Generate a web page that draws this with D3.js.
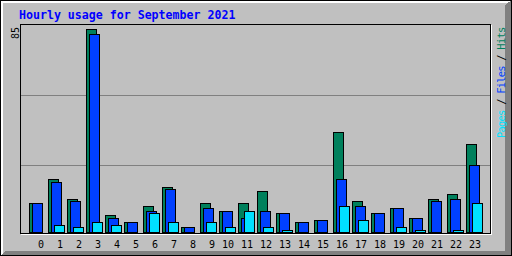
<!DOCTYPE html>
<html lang="en">
<head>
<meta charset="UTF-8">
<script src="https://d3js.org/d3.v7.min.js"></script>
<title>Hourly usage</title>
<style>
  body { margin: 0; background: #fff; }
  svg { display: block; }
  text { font-family: "DejaVu Sans Mono", monospace; }
</style>
</head>
<body>
<svg width="512" height="256"></svg>
<script>
var width = 512, height = 256;

var title = "Hourly usage for September 2021";
var hourLabels = ["0","1","2","3","4","5","6","7","8","9","10","11",
                  "12","13","14","15","16","17","18","19","20","21","22","23"];
var hits  = [12, 22, 14, 85, 7, 4, 11, 19, 2, 12, 9, 12, 17, 8, 4, 5, 42, 13, 8, 10, 6, 14, 16, 37];
var files = [12, 21, 13, 83, 6, 4,  9, 18, 2, 10, 9,  6,  9, 8, 4, 5, 22, 11, 8, 10, 6, 13, 14, 28];
var pages = [ 0,  3,  2,  4, 3, 0,  8,  4, 0,  4, 2,  9,  2, 1, 0, 0, 11,  5, 0,  2, 1,  0,  1, 12];
var maxVal = d3.max(hits);

var hitColor = "#00805c", fileColor = "#0040ff", pageColor = "#00e0ff";

var svg = d3.select("svg").attr("shape-rendering", "crispEdges");

// background + bevel border
svg.append("rect").attr("width", width).attr("height", height).attr("fill", "#c0c0c0");
svg.append("path").attr("fill", "#fff")
    .attr("d", "M0,0H512L509,3H3V253L0,256Z");
svg.append("path").attr("fill", "#808080")
    .attr("d", "M512,0V256H0L5,251H505V5Z");
svg.append("rect").attr("x", 0.5).attr("y", 0.5).attr("width", 511).attr("height", 255)
    .attr("fill", "none").attr("stroke", "#000");

// title
svg.append("text").attr("x", 19).attr("y", 19)
    .attr("fill", "#0000ff").attr("font-weight", "bold")
    .attr("font-size", "11.6px")
    .text(title);

var x = d3.scaleLinear().domain([0, 23]).range([29, 466]);
var y = d3.scaleLinear().domain([0, maxVal]).range([232, 29]);

// plot frame
svg.append("line").attr("x1", 20.5).attr("x2", 20.5).attr("y1", 24).attr("y2", 234).attr("stroke", "#000");
svg.append("line").attr("x1", 20).attr("x2", 491).attr("y1", 24.5).attr("y2", 24.5).attr("stroke", "#000");
svg.append("line").attr("x1", 490.5).attr("x2", 490.5).attr("y1", 25).attr("y2", 234).attr("stroke", "#000");
svg.append("line").attr("x1", 20).attr("x2", 491).attr("y1", 233.5).attr("y2", 233.5).attr("stroke", "#000");
svg.append("line").attr("x1", 491.5).attr("x2", 491.5).attr("y1", 25).attr("y2", 235).attr("stroke", "#fff");
svg.append("line").attr("x1", 21).attr("x2", 492).attr("y1", 234.5).attr("y2", 234.5).attr("stroke", "#fff");

// grid lines
[95, 165].forEach(function(gy) {
    svg.append("line").attr("x1", 21).attr("x2", 490).attr("y1", gy + 0.5).attr("y2", gy + 0.5)
        .attr("stroke", "#808080");
});

// max label
svg.append("text").attr("transform", "translate(19,39) rotate(-90)")
    .attr("font-size", "10px").attr("fill", "#000").text(maxVal);

// bars
var series = [
    { values: hits,  color: hitColor,  off: 0 },
    { values: files, color: fileColor, off: 3 },
    { values: pages, color: pageColor, off: 6 }
];
series.forEach(function(s) {
    svg.append("g").selectAll("rect")
        .data(s.values.map(function(v, i) { return { v: v, i: i }; })
            .filter(function(d) { return d.v > 0; }))
        .join("rect")
        .attr("x", function(d) { return x(d.i) + s.off + 0.5; })
        .attr("y", function(d) { return Math.round(y(d.v)) + 0.5; })
        .attr("width", 10)
        .attr("height", function(d) { return 232 - Math.round(y(d.v)); })
        .attr("fill", s.color)
        .attr("stroke", "#000");
});

// hour labels
svg.append("g").selectAll("text")
    .data(hourLabels)
    .join("text")
    .attr("x", function(d, i) { return x(i) + 15; })
    .attr("y", 248)
    .attr("text-anchor", "end")
    .attr("font-size", "10px")
    .attr("fill", "#000")
    .text(function(d) { return d; });

// legend on the right
var legend = svg.append("text").attr("transform", "translate(505,138) rotate(-90)")
    .attr("font-size", "10.5px").attr("letter-spacing", "-0.8px");
legend.append("tspan").attr("fill", pageColor).text("Pages");
legend.append("tspan").attr("fill", "#000").text(" / ");
legend.append("tspan").attr("fill", fileColor).text("Files");
legend.append("tspan").attr("fill", "#000").text(" / ");
legend.append("tspan").attr("fill", hitColor).text("Hits");
</script>
</body>
</html>
